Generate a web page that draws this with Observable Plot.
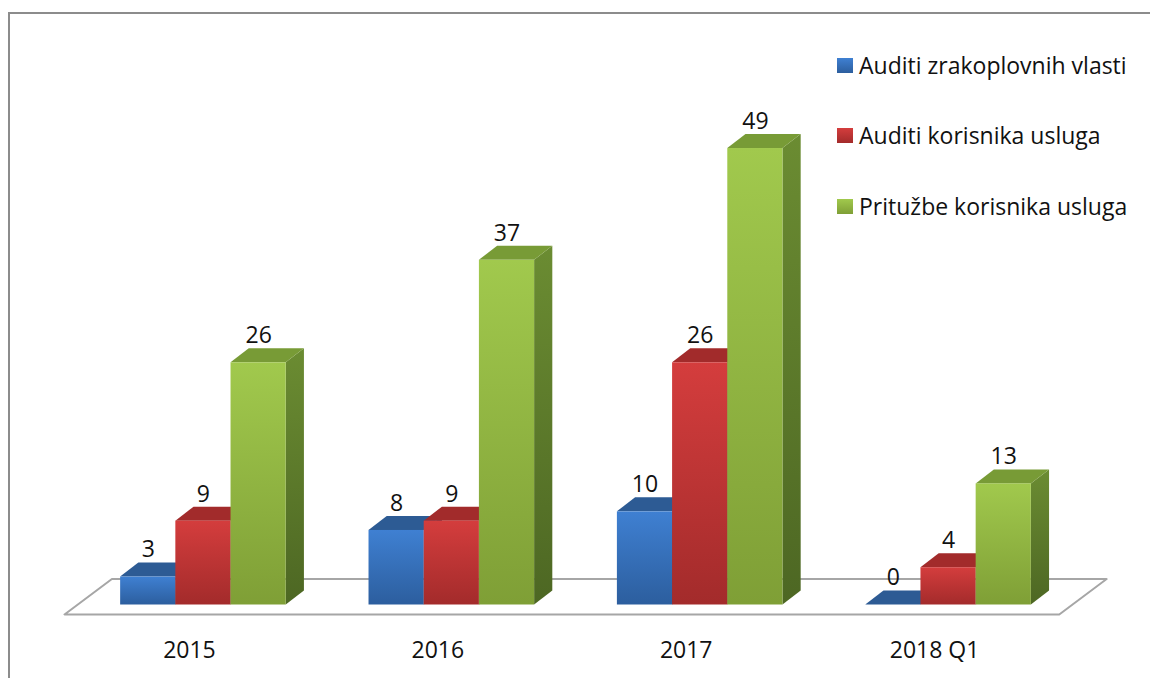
<!DOCTYPE html>
<html>
<head>
<meta charset="utf-8">
<script src="https://cdn.jsdelivr.net/npm/d3@7"></script>
<script src="https://cdn.jsdelivr.net/npm/@observablehq/plot@0.6"></script>
<style>
  html, body { margin: 0; padding: 0; background: #fff; overflow: hidden; }
  #wrap { position: relative; width: 1150px; height: 678px; overflow: hidden; font-family: "Open Sans", Lato, sans-serif; }
  #frame { position: absolute; left: 8px; top: 12px; width: 1400px; height: 900px; border-left: 2px solid #8c8c8c; border-top: 2px solid #8c8c8c; box-sizing: border-box; }
  #chart { position: absolute; left: 0; top: 0; }
  .leg { position: absolute; left: 837px; height: 24px; display: flex; align-items: center; font-size: 23px; color: #111; white-space: nowrap; }
  .leg i { display: inline-block; width: 16px; height: 15px; margin-right: 6px; }
</style>
</head>
<body>
<div id="wrap">
  <div id="frame"></div>
  <div id="chart"></div>
  <div id="legend"></div>
</div>
<script>
// ---- data ----
const years = ["2015", "2016", "2017", "2018 Q1"];
const seriesNames = ["Auditi zrakoplovnih vlasti", "Auditi korisnika usluga", "Pritužbe korisnika usluga"];
const auditiVlasti = [3, 8, 10, 0];
const auditiKorisnika = [9, 9, 26, 4];
const prituzbe = [26, 37, 49, 13];

// ---- styling ----
const FONT = "'Open Sans', Lato, sans-serif";
const frontGrad = [["#3f80d2", "#2c5e9e"], ["#d43d3d", "#a32b2b"], ["#a1c94d", "#7f9f36"]];
const topColor = ["#2d5b94", "#a22b2b", "#789b36"];
const sideGrad = [["#26508a", "#1d3f6e"], ["#8e2424", "#6e1b1b"], ["#6b8c32", "#4d6723"]];
const legendGrad = [["#3f80d2", "#2c5e9e"], ["#d43d3d", "#a32b2b"], ["#a1c94d", "#7f9f36"]];

const W = 1150, H = 678;
const mL = 78.75, mR = 77.75, mT = 138.7, mB = 73.5;
const pxX = (W - mL - mR) / 4;       // px per x unit
const pxY = (H - mT - mB) / 50;      // px per y unit
const BW = 1 / 4.5;                  // bar width (x units)
const depthPx = 14, slope = 1.3;     // 3D depth
const dyU = depthPx / pxY, dxU = depthPx * slope / pxX;
const floorFront = -10, floorBack = 25.5;  // px in depth

const seriesValues = [auditiVlasti, auditiKorisnika, prituzbe];
const rows = [];
seriesValues.forEach((vals, s) => vals.forEach((v, g) => {
  const xl = g - 1.5 * BW + s * BW;
  rows.push({id: `${s}-${g}`, s, g, v, xl, xr: xl + BW});
}));

const floor = [
  {y: floorFront / pxY, x1: -0.505 + floorFront * slope / pxX, x2: 3.5 + floorFront * slope / pxX},
  {y: floorBack / pxY, x1: -0.5 + floorBack * slope / pxX, x2: 3.505 + floorBack * slope / pxX}
];

const shadow = years.flatMap((yr, g) => [
  {g, y: 0.1, x1: g - 1.5 * BW - 0.07, x2: g + 1.5 * BW + 0.03},
  {g, y: dyU * 1.3, x1: g - 1.5 * BW - 0.07 + dxU * 1.3, x2: g + 1.5 * BW + 0.05 + dxU * 1.8}
]);

const marks = [
  Plot.areaX(floor, {y: "y", x1: "x1", x2: "x2", fill: "white", stroke: "#a6a6a6", strokeWidth: 2}),
  Plot.areaX(shadow, {y: "y", x1: "x1", x2: "x2", z: "g", fill: "#8a8a8a", fillOpacity: 0.85, ariaLabel: "shadow"})
];

for (let s = 0; s < 3; s++) {
  const r = rows.filter(d => d.s === s);
  const side = r.flatMap(d => [
    {id: d.id, x: d.xr, y1: 0, y2: d.v},
    {id: d.id, x: d.xr + dxU, y1: dyU, y2: d.v + dyU}
  ]);
  const top = r.flatMap(d => [
    {id: d.id, y: d.v, x1: d.xl, x2: d.xr},
    {id: d.id, y: d.v + dyU, x1: d.xl + dxU, x2: d.xr + dxU}
  ]);
  marks.push(
    Plot.areaY(side, {x: "x", y1: "y1", y2: "y2", z: "id", fill: `url(#side${s})`}),
    Plot.areaX(top, {y: "y", x1: "x1", x2: "x2", z: "id", fill: topColor[s]}),
    Plot.rect(r, {x1: "xl", x2: "xr", y1: 0, y2: "v", fill: `url(#front${s})`})
  );
}

marks.push(
  Plot.text(rows, {x: d => (d.xl + d.xr) / 2, y: d => d.v + dyU, text: d => String(d.v), dy: -13,
    fontSize: 23, fontFamily: FONT, fill: "#111"}),
  Plot.text(years, {x: (d, i) => i - 14 / pxX, y: () => 0, text: d => d, dy: 45.5,
    fontSize: 23, fontFamily: FONT, fill: "#111"})
);

const svg = Plot.plot({
  width: W, height: H,
  marginLeft: mL, marginRight: mR, marginTop: mT, marginBottom: mB,
  x: {type: "linear", domain: [-0.5, 3.5], axis: null},
  y: {type: "linear", domain: [0, 50], axis: null},
  style: {background: "transparent", overflow: "visible"},
  marks
});

let defs = "<defs>";
for (let s = 0; s < 3; s++) {
  defs += `<linearGradient id="front${s}" x1="0" y1="0" x2="0" y2="1"><stop offset="0" stop-color="${frontGrad[s][0]}"/><stop offset="1" stop-color="${frontGrad[s][1]}"/></linearGradient>`;
  defs += `<linearGradient id="side${s}" x1="0" y1="0" x2="0" y2="1"><stop offset="0" stop-color="${sideGrad[s][0]}"/><stop offset="1" stop-color="${sideGrad[s][1]}"/></linearGradient>`;
}
defs += `<filter id="blur" x="-20%" y="-200%" width="140%" height="500%"><feGaussianBlur stdDeviation="5"/></filter>`;
defs += "</defs>";
svg.insertAdjacentHTML("afterbegin", defs);
const sh = svg.querySelector('g[aria-label="shadow"]');
if (sh) sh.setAttribute("filter", "url(#blur)");
document.getElementById("chart").appendChild(svg);

// legend
const legend = document.getElementById("legend");
const legTops = [53, 123, 194];
seriesNames.forEach((name, s) => {
  const div = document.createElement("div");
  div.className = "leg";
  div.style.top = legTops[s] + "px";
  div.innerHTML = `<i style="background:linear-gradient(${legendGrad[s][0]}, ${legendGrad[s][1]})"></i><span>${name}</span>`;
  legend.appendChild(div);
});
</script>
</body>
</html>
